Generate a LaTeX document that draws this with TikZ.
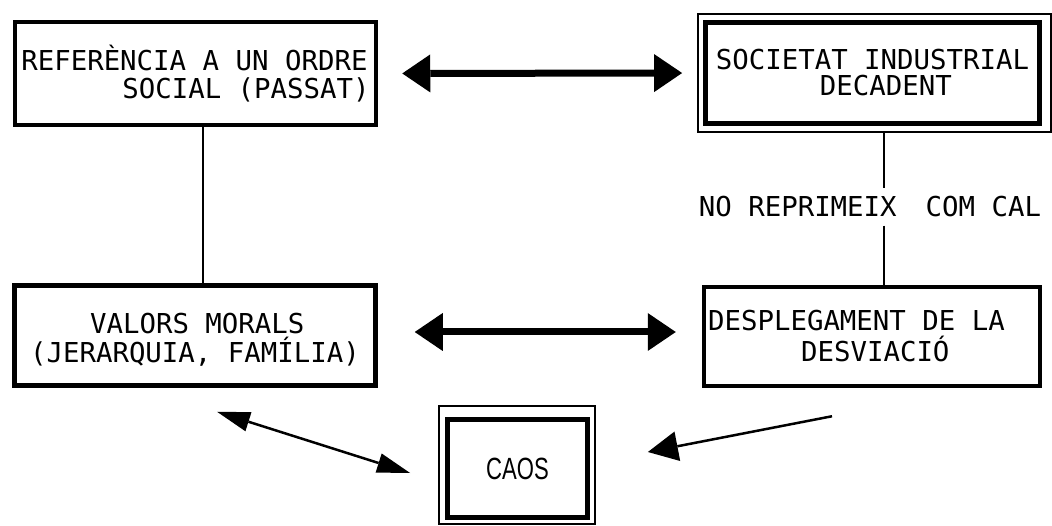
\documentclass[tikz,border=0pt]{standalone}
\usepackage{fontspec}
\usepackage{graphicx}
\setmainfont{Liberation Sans}
\newfontfamily\plotfont{DejaVu Sans Mono}
\newcommand\plotsize[1]{\plotfont\fontsize{27.4pt}{#1}\selectfont}
\newcommand\psp{\hspace*{16.5pt}}
\usetikzlibrary{arrows.meta}
\begin{document}
\begin{tikzpicture}[x=1pt,y=-1pt,
  box/.style={draw, line width=4.5pt, inner sep=0pt, align=left},
  thinframe/.style={draw, line width=1.8pt, inner sep=0pt},
  link/.style={line width=2pt},
  bigarrow/.style={line width=7pt, {Triangle[length=28pt,width=38pt,line width=0pt]}-{Triangle[length=28pt,width=38pt,line width=0pt]}},
  diagboth/.style={line width=2.5pt, {Triangle[length=33pt,width=20pt,line width=0pt]}-{Triangle[length=33pt,width=20pt,line width=0pt]}},
  diagone/.style={line width=2.5pt, -{Triangle[length=30pt,width=30pt,line width=0pt]}}
]
\useasboundingbox (0,0) rectangle (1052,526);

\node[box, minimum width=361pt, minimum height=103pt,
  font={\plotsize{28pt}}] (A) at (195.5,73.5)
  {REFERÈNCIA\psp A\psp UN\psp ORDRE\\\hspace*{101pt}SOCIAL\psp (PASSAT)};

\node[thinframe, minimum width=353pt, minimum height=118pt] (Bo) at (874.5,73) {};
\node[box, minimum width=334pt, minimum height=101pt,
  font={\plotsize{26pt}}] (B) at (872.5,73)
  {SOCIETAT\psp INDUSTRIAL\\\hspace*{104pt}DECADENT};

\node[box, minimum width=361pt, minimum height=100pt,
  font={\plotsize{29pt}}] (C) at (195,335.5)
  {\rule{0pt}{29pt}\hspace*{60pt}VALORS\psp MORALS\\(JERARQUIA,\psp FAMÍLIA)};

\node[box, minimum width=336pt, minimum height=99pt,
  font={\plotsize{31pt}}] (D) at (872,336.5)
  {DESPLEGAMENT\psp DE\psp LA\rule{31pt}{0pt}\\\hspace*{93pt}DESVIACIÓ};

\node[thinframe, minimum width=156pt, minimum height=118.5pt] (Eo) at (517,465) {};
\node[box, minimum width=140pt, minimum height=98pt, align=center] (E) at (517.5,468.5)
  {\scalebox{0.72}[1]{\fontsize{30.7pt}{32pt}\selectfont CAOS}};

\node[font={\plotsize{28pt}}, inner xsep=0pt, inner ysep=8pt]
  (lbl) at (870,207) {NO\psp REPRIMEIX\hspace*{29pt}COM\psp CAL};

\coordinate (vl) at (203,0);
\coordinate (vr) at (884,0);
\draw[link] (A.south -| vl) -- (C.north -| vl);
\draw[link] (Bo.south -| vr) -- (lbl.north -| vr);
\draw[link] (lbl.south -| vr) -- (D.north -| vr);

\draw[bigarrow, shorten <=24pt, shorten >=15pt] (A.east) -- (Bo.west);
\draw[bigarrow, shorten <=37pt, shorten >=26pt] ([yshift=3.5pt]C.east) -- ([yshift=4.5pt]D.west);

\coordinate (p1) at ([shift={(22,24)}]C.south);
\coordinate (p2) at ([shift={(-28,8)}]Eo.west);
\coordinate (p3) at ([shift={(-40,28)}]D.south);
\coordinate (p4) at ([shift={(52,-13)}]Eo.east);
\draw[diagboth] (p1) -- (p2);
\draw[diagone] (p3) -- (p4);
\end{tikzpicture}
\end{document}
